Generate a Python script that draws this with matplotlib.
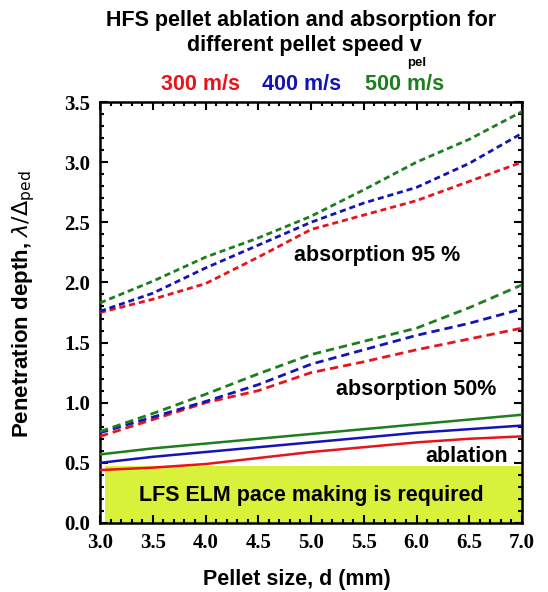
import matplotlib
matplotlib.use("Agg")
import matplotlib.pyplot as plt
from matplotlib.patches import Rectangle
from matplotlib.ticker import MultipleLocator

# ---- data ----
d = [3.0, 3.5, 4.0, 4.5, 5.0, 5.5, 6.0, 6.5, 7.0]

abs95_300 = [1.75, 1.86, 1.99, 2.21, 2.44, 2.56, 2.68, 2.84, 3.00]
abs95_400 = [1.76, 1.91, 2.12, 2.31, 2.50, 2.66, 2.79, 2.99, 3.24]
abs95_500 = [1.83, 2.01, 2.21, 2.37, 2.55, 2.77, 3.00, 3.19, 3.42]

abs50_300 = [0.72, 0.86, 1.00, 1.10, 1.25, 1.34, 1.44, 1.53, 1.62]
abs50_400 = [0.75, 0.88, 1.01, 1.15, 1.32, 1.44, 1.56, 1.66, 1.78]
abs50_500 = [0.76, 0.91, 1.07, 1.24, 1.40, 1.51, 1.62, 1.79, 1.98]

abl_300 = [0.44, 0.46, 0.49, 0.54, 0.59, 0.63, 0.67, 0.70, 0.72]
abl_400 = [0.50, 0.55, 0.59, 0.63, 0.67, 0.71, 0.75, 0.78, 0.81]
abl_500 = [0.57, 0.62, 0.66, 0.70, 0.74, 0.78, 0.82, 0.86, 0.90]

speeds = ["300 m/s", "400 m/s", "500 m/s"]
colors = ["#e8141c", "#1414b4", "#1e7d1e"]

x_ticks = [3.0, 3.5, 4.0, 4.5, 5.0, 5.5, 6.0, 6.5, 7.0]
y_ticks = [0.0, 0.5, 1.0, 1.5, 2.0, 2.5, 3.0, 3.5]

box_top = 0.47

fig = plt.figure(figsize=(5.48, 5.92), dpi=100)
ax = fig.add_axes([0.1825, 0.1166, 0.7701, 0.7111])

ax.add_patch(Rectangle((3.045, 0.0), 3.955, box_top, facecolor="#d8f23c",
                       edgecolor="none", zorder=1))

for series, c in zip([abs95_300, abs95_400, abs95_500], colors):
    ax.plot(d, series, color=c, lw=2.0, dashes=(2.2, 1.4), zorder=3)
for series, c in zip([abs50_300, abs50_400, abs50_500], colors):
    ax.plot(d, series, color=c, lw=2.0, dashes=(3.0, 1.8), zorder=3)
for series, c in zip([abl_300, abl_400, abl_500], colors):
    ax.plot(d, series, color=c, lw=1.8, zorder=3)

ax.set_xlim(3.0, 7.0)
ax.set_ylim(0.0, 3.5)
ax.set_xticks(x_ticks)
ax.set_yticks(y_ticks)
ax.xaxis.set_minor_locator(MultipleLocator(0.1))
ax.yaxis.set_minor_locator(MultipleLocator(0.1))
ax.tick_params(which="both", direction="in", top=True, right=True, width=1.5)
ax.tick_params(which="major", length=6, pad=7)
ax.tick_params(which="minor", length=3)
for s in ax.spines.values():
    s.set_linewidth(1.8)

tickfont = dict(family="Liberation Serif", weight="bold", size=15)
ax.set_xticklabels([f"{v:.1f}" for v in x_ticks], **tickfont)
ax.set_yticklabels([f"{v:.1f}" for v in y_ticks], **tickfont)

sans = "Liberation Sans"
fs = 15.5
ax.set_xlabel("Pellet size, d (mm)", family=sans, weight="bold", size=fs, va="center")
ax.xaxis.set_label_coords(0.467, -0.135)
ax.set_ylabel(r"Penetration depth, $\lambda/\Delta_{\mathrm{ped}}$", family=sans,
              weight="bold", size=16, va="center")
ax.yaxis.set_label_coords(-0.18, 0.52)

ax.text(5.63, 2.22, "absorption 95 %", family=sans, weight="bold", size=fs,
        ha="center", va="center", zorder=4)
ax.text(6.0, 1.11, "absorption 50%", family=sans, weight="bold", size=fs,
        ha="center", va="center", zorder=4)
ax.text(6.48, 0.55, "ablation", family=sans, weight="bold", size=fs,
        ha="center", va="center", zorder=4)
ax.text(5.0, 0.225, "LFS ELM pace making is required", family=sans, weight="bold",
        size=fs, ha="center", va="center", zorder=4)

fig.text(0.549, 0.966, "HFS pellet ablation and absorption for", family=sans,
         weight="bold", size=fs, ha="center", va="center")
fig.text(0.770, 0.923, "different pellet speed v", family=sans,
         weight="bold", size=fs, ha="right", va="center")
fig.text(0.743, 0.893, "pel", family=sans, weight="bold", size=9.5,
         ha="left", va="center")
for xf, txt, c in zip([0.365, 0.551, 0.739], speeds, colors):
    fig.text(xf, 0.858, txt, family=sans, weight="bold", size=fs, color=c,
             ha="center", va="center")

fig.savefig("out.png", dpi=100)
